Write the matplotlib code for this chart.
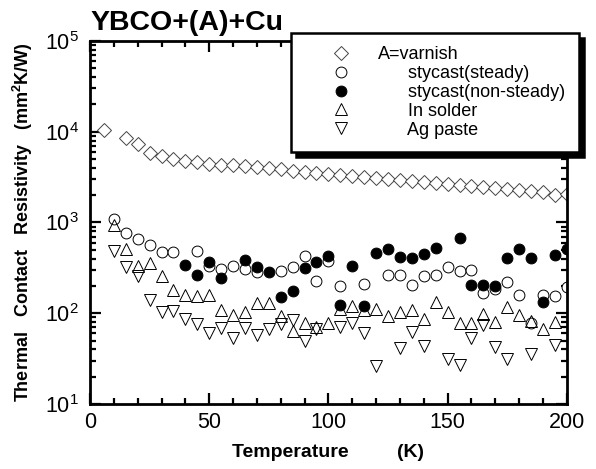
## Imports
import numpy as np
import matplotlib.pyplot as plt
from matplotlib.ticker import LogLocator, MultipleLocator, NullFormatter

plt.rcParams['font.family'] = ['Liberation Sans', 'DejaVu Sans']
plt.rcParams['mathtext.default'] = 'regular'


## Data
# A = varnish
T_varnish = [6, 15, 20, 25, 30, 35, 40, 45, 50, 55, 60, 65, 70, 75, 80, 85, 90, 95, 100,
             105, 110, 115, 120, 125, 130, 135, 140, 145, 150, 155, 160, 165, 170, 175,
             180, 185, 190, 195, 200]
R_varnish = [10350, 8590, 7390, 5850, 5380, 5060, 4810, 4660, 4460, 4350, 4290, 4140, 4040,
             3940, 3840, 3720, 3620, 3530, 3440, 3360, 3270, 3190, 3100, 3020, 2940, 2870,
             2790, 2720, 2650, 2580, 2520, 2450, 2390, 2330, 2270, 2210, 2150, 2000, 2080]

# stycast (steady)
T_steady = [10, 15, 20, 25, 30, 35, 45, 50, 55, 60, 65, 70, 80, 85, 90, 95, 100, 105, 115,
            125, 130, 135, 140, 145, 150, 155, 160, 165, 170, 175, 180, 185, 190, 195, 200]
R_steady = [1090, 764, 662, 560, 473, 469, 481, 330, 308, 330, 308, 283, 290, 320, 425, 224,
            380, 199, 208, 267, 267, 204, 256, 261, 324, 291, 298, 166, 183, 222, 157, 79,
            157, 155, 195]

# stycast (non-steady)
T_nonsteady = [40, 45, 50, 55, 65, 70, 75, 80, 85, 90, 95, 100, 105, 110, 115, 120, 125, 130,
               135, 140, 145, 155, 160, 165, 170, 175, 180, 185, 190, 195, 200]
R_nonsteady = [336, 262, 371, 242, 390, 324, 283, 151, 175, 316, 367, 431, 123, 330, 120, 461,
               510, 414, 406, 449, 523, 673, 204, 204, 199, 406, 510, 406, 134, 443, 510]

# In solder
T_solder = [10, 15, 20, 25, 30, 35, 40, 45, 50, 55, 60, 65, 70, 75, 80, 85, 90, 95, 100, 105,
            110, 115, 120, 125, 130, 135, 140, 145, 150, 155, 160, 165, 170, 175, 180, 185,
            190, 195]
R_solder = [944, 515, 330, 358, 256, 180, 157, 155, 157, 108, 96, 102, 131, 131, 93, 63, 79,
            71, 79, 111, 120, 109, 111, 93, 102, 108, 87, 134, 102, 79, 78, 97, 80, 118, 95,
            82, 67, 80]

# Ag paste
T_ag = [10, 15, 20, 25, 30, 35, 40, 45, 50, 55, 60, 65, 70, 75, 80, 85, 90, 95, 105, 110,
        115, 120, 130, 135, 140, 150, 155, 160, 165, 170, 175, 185, 195]
R_ag = [490, 324, 256, 140, 103, 106, 87, 76, 61, 68, 53, 68, 57, 67, 76, 84, 50, 67, 70, 79,
        60, 26, 41, 62, 44, 31, 27, 54, 74, 42, 31, 36, 45]

labels = ['A=varnish', '      stycast(steady)', '      stycast(non-steady)',
          '      In solder', '      Ag paste']


## Figure
fig = plt.figure(figsize=(5.96, 4.69), dpi=100)
ax = fig.add_axes([0.151, 0.1386, 0.800, 0.774])

ms = 7.8
ax.plot(T_varnish, R_varnish, 'D', ms=6.8, mfc='white', mec='#444444', mew=0.7, ls='none', label=labels[0])
ax.plot(T_steady, R_steady, 'o', ms=ms, mfc='white', mec='black', mew=0.7, ls='none', label=labels[1])
ax.plot(T_nonsteady, R_nonsteady, 'o', ms=ms, mfc='black', mec='black', mew=0.7, ls='none', label=labels[2])
ax.plot(T_solder, R_solder, '^', ms=8.8, mfc='none', mec='black', mew=0.7, ls='none', label=labels[3])
ax.plot(T_ag, R_ag, 'v', ms=8.8, mfc='none', mec='black', mew=0.7, ls='none', label=labels[4])

ax.set_yscale('log')
ax.set_xlim(0, 200)
ax.set_ylim(10, 1e5)

# ticks
ax.xaxis.set_major_locator(MultipleLocator(50))
ax.xaxis.set_minor_locator(MultipleLocator(10))
ax.yaxis.set_major_locator(LogLocator(base=10, numticks=10))
ax.yaxis.set_minor_locator(LogLocator(base=10, subs=np.arange(2, 10), numticks=10))
ax.yaxis.set_minor_formatter(NullFormatter())
ax.tick_params(which='both', direction='in', top=True, right=True, width=1.6, labelsize=15.5)
ax.tick_params(which='major', length=8)
ax.tick_params(which='minor', length=4)
ax.tick_params(axis='x', pad=6)
ax.tick_params(axis='y', pad=8)
for s in ax.spines.values():
    s.set_linewidth(2)

ax.set_xlabel('Temperature         (K)', fontsize=14, fontweight='bold', labelpad=8)
ax.set_ylabel('Thermal   Contact   Resistivity   (mm$^2$K/W)', fontsize=13, fontweight='bold', labelpad=7)

fig.text(0.151, 0.936, 'YBCO+(A)+Cu', fontsize=20.5, fontweight='bold', va='baseline', ha='left')

## Legend
leg = ax.legend(loc='upper left', bbox_to_anchor=(0.488, 0.930), bbox_transform=fig.transFigure,
                fontsize=13, frameon=True, fancybox=False, borderpad=0.75, handlelength=4.0,
                handletextpad=0.1, labelspacing=0.1, borderaxespad=0,
                shadow={'color': 'black', 'alpha': 1, 'ox': 3.5, 'oy': -3.5})
leg.get_frame().set_edgecolor('black')
leg.get_frame().set_linewidth(1.8)
leg.get_frame().set_alpha(1)

fig.savefig('out.png', dpi=100)
